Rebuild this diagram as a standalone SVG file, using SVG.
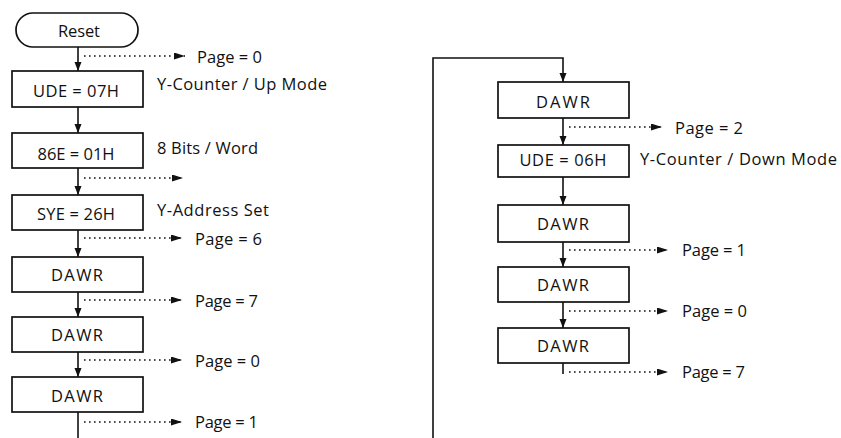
<svg xmlns="http://www.w3.org/2000/svg" width="841" height="438" viewBox="0 0 841 438">
<style>
.box{fill:#fff;stroke:#111;stroke-width:1.7}
.ln{fill:none;stroke:#111;stroke-width:1.6}
.dot{fill:none;stroke:#111;stroke-width:1.7;stroke-dasharray:1.6 3.4}
text{font-family:"Open Sans","DejaVu Sans",sans-serif;font-size:16.5px;fill:#111}
.c{text-anchor:middle}
</style>
<defs>
<marker id="ah" markerUnits="userSpaceOnUse" markerWidth="10" markerHeight="8" refX="9" refY="3.5" orient="auto"><path d="M0,0 L9,3.5 L0,7 z" fill="#111"/></marker>
<marker id="dh" markerUnits="userSpaceOnUse" markerWidth="12" markerHeight="8" refX="11" refY="3.5" orient="auto"><path d="M0,0 L11,3.5 L0,7 z" fill="#111"/></marker>
</defs>
<rect width="841" height="438" fill="#fff"/>
<g id="connectors">
<line class="ln" x1="78" y1="47" x2="78" y2="71" marker-end="url(#ah)"/>
<line class="ln" x1="78" y1="107" x2="78" y2="133" marker-end="url(#ah)"/>
<line class="ln" x1="78" y1="168" x2="78" y2="195" marker-end="url(#ah)"/>
<line class="ln" x1="78" y1="230" x2="78" y2="257" marker-end="url(#ah)"/>
<line class="ln" x1="78" y1="292" x2="78" y2="317" marker-end="url(#ah)"/>
<line class="ln" x1="78" y1="352" x2="78" y2="377" marker-end="url(#ah)"/>
<line class="ln" x1="78" y1="412" x2="78" y2="438"/>
<line class="dot" x1="84" y1="56" x2="185" y2="56" marker-end="url(#dh)"/>
<line class="dot" x1="84" y1="178" x2="183" y2="178" marker-end="url(#dh)"/>
<line class="dot" x1="84" y1="238" x2="182" y2="238" marker-end="url(#dh)"/>
<line class="dot" x1="84" y1="300" x2="182" y2="300" marker-end="url(#dh)"/>
<line class="dot" x1="84" y1="360" x2="182" y2="360" marker-end="url(#dh)"/>
<line class="dot" x1="84" y1="422" x2="182" y2="422" marker-end="url(#dh)"/>
<path class="ln" d="M433,438 V58 H563 V82" marker-end="url(#ah)"/>
<line class="ln" x1="563" y1="118" x2="563" y2="145" marker-end="url(#ah)"/>
<line class="ln" x1="563" y1="177" x2="563" y2="205" marker-end="url(#ah)"/>
<line class="ln" x1="563" y1="242" x2="563" y2="267" marker-end="url(#ah)"/>
<line class="ln" x1="563" y1="302" x2="563" y2="328" marker-end="url(#ah)"/>
<line class="ln" x1="563" y1="363" x2="563" y2="374"/>
<line class="dot" x1="569" y1="127" x2="662" y2="127" marker-end="url(#dh)"/>
<line class="dot" x1="569" y1="250" x2="668" y2="250" marker-end="url(#dh)"/>
<line class="dot" x1="569" y1="311" x2="668" y2="311" marker-end="url(#dh)"/>
<line class="dot" x1="569" y1="372" x2="668" y2="372" marker-end="url(#dh)"/>
</g>
<g id="labels">
<text x="197" y="63" textLength="65">Page = 0</text>
<text x="157" y="90" textLength="170">Y-Counter / Up Mode</text>
<text x="157" y="154" textLength="101">8 Bits / Word</text>
<text x="157" y="216" textLength="112">Y-Address Set</text>
<text x="195" y="245" textLength="67">Page = 6</text>
<text x="195" y="307" textLength="63">Page = 7</text>
<text x="195" y="367" textLength="65">Page = 0</text>
<text x="195" y="428" textLength="63">Page = 1</text>
<text x="675" y="134" textLength="68">Page = 2</text>
<text x="640" y="165" textLength="197">Y-Counter / Down Mode</text>
<text x="682" y="256" textLength="64">Page = 1</text>
<text x="682" y="317" textLength="65">Page = 0</text>
<text x="682" y="378" textLength="63">Page = 7</text>
</g>
<g id="reset"><rect class="box" x="16" y="13" width="122" height="34" rx="17"/><text class="c" x="79" y="37" textLength="42">Reset</text></g>
<g id="ude07"><rect class="box" x="12" y="71" width="131" height="36"/><text class="c" x="76" y="97" textLength="86">UDE = 07H</text></g>
<g id="b86e"><rect class="box" x="12" y="133" width="131" height="35"/><text class="c" x="76" y="160" textLength="77">86E = 01H</text></g>
<g id="sye"><rect class="box" x="12" y="195" width="131" height="35"/><text class="c" x="76" y="220" textLength="78">SYE = 26H</text></g>
<g id="dawr1"><rect class="box" x="12" y="257" width="131" height="35"/><text class="c" x="77" y="281" textLength="52">DAWR</text></g>
<g id="dawr2"><rect class="box" x="12" y="317" width="131" height="35"/><text class="c" x="77" y="341" textLength="52">DAWR</text></g>
<g id="dawr3"><rect class="box" x="12" y="377" width="131" height="35"/><text class="c" x="77" y="402" textLength="52">DAWR</text></g>
<g id="dawr4"><rect class="box" x="498" y="82" width="131" height="36"/><text class="c" x="563" y="108" textLength="54">DAWR</text></g>
<g id="ude06"><rect class="box" x="498" y="145" width="131" height="32"/><text class="c" x="563" y="166" textLength="87">UDE = 06H</text></g>
<g id="dawr5"><rect class="box" x="498" y="205" width="131" height="37"/><text class="c" x="563" y="230" textLength="52">DAWR</text></g>
<g id="dawr6"><rect class="box" x="498" y="267" width="131" height="35"/><text class="c" x="563" y="291" textLength="52">DAWR</text></g>
<g id="dawr7"><rect class="box" x="498" y="328" width="131" height="35"/><text class="c" x="563" y="352" textLength="52">DAWR</text></g>
</svg>
